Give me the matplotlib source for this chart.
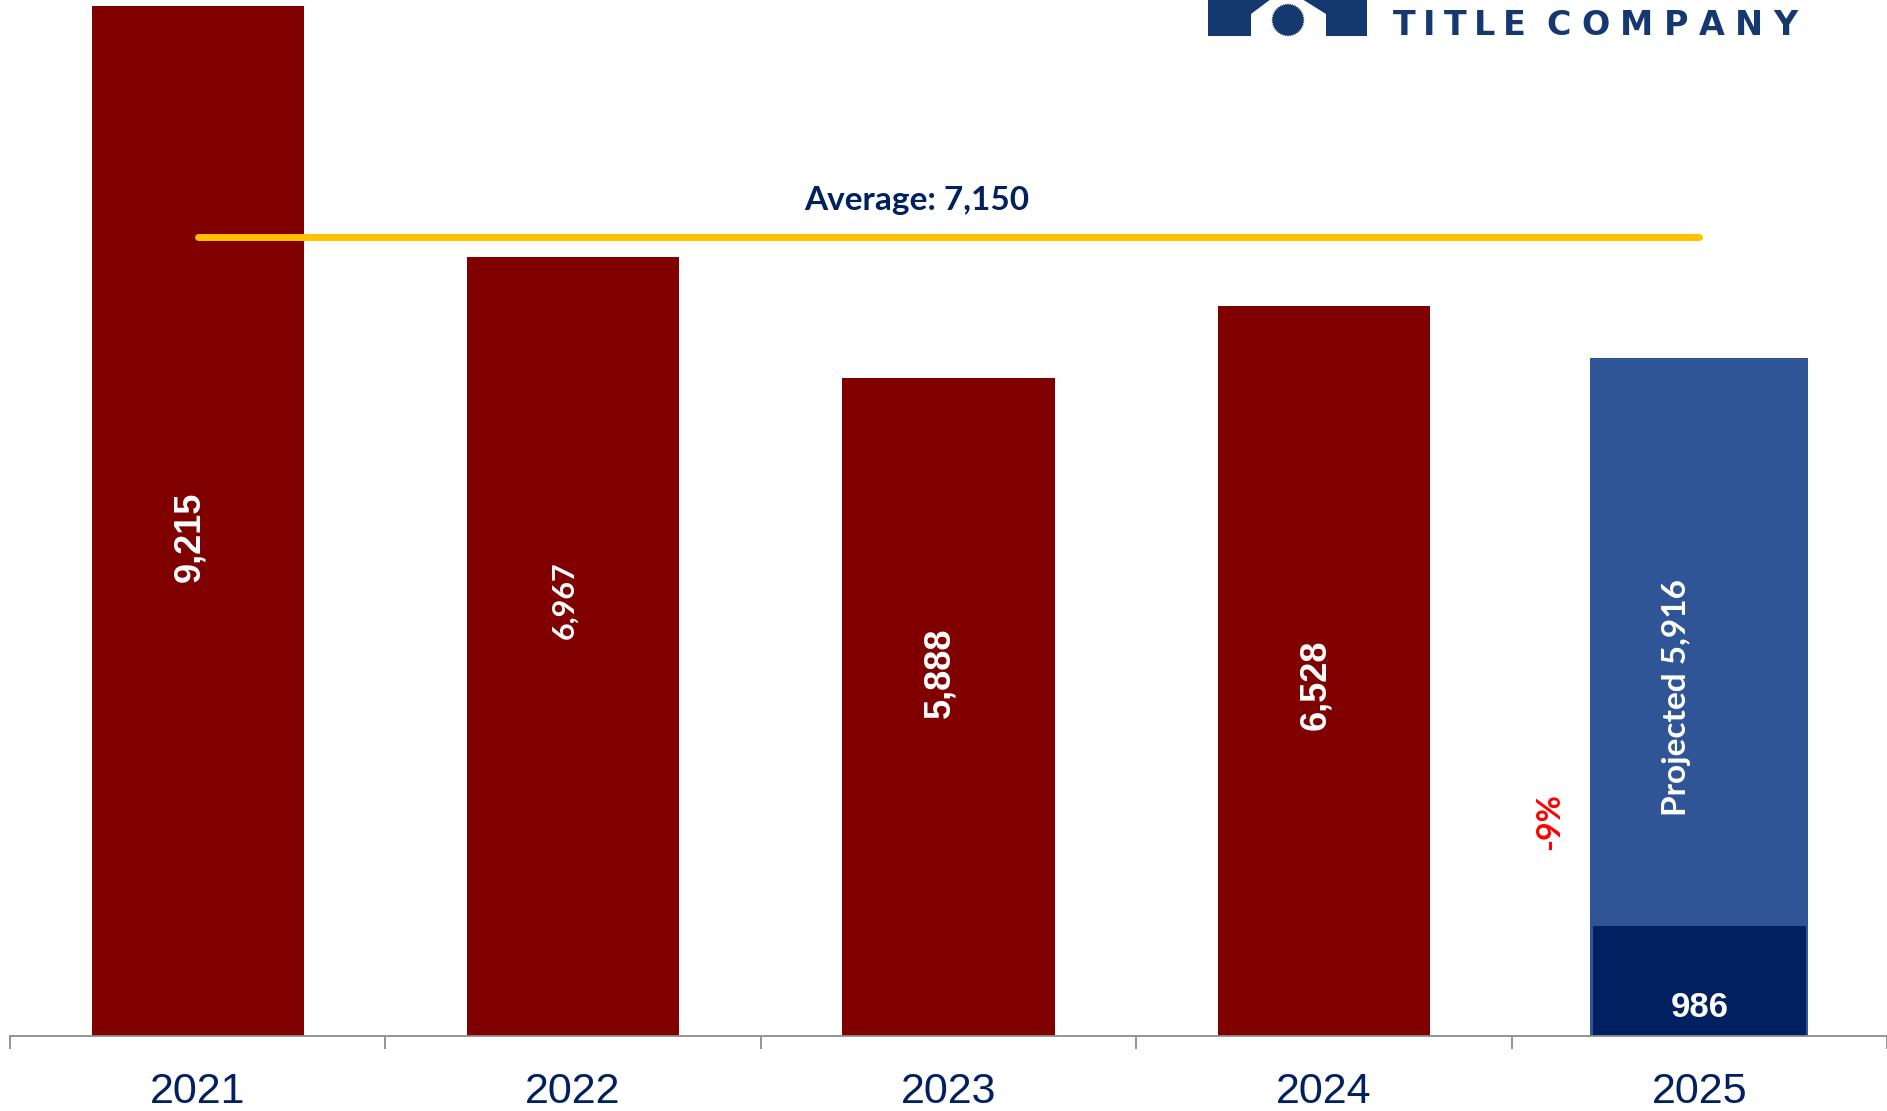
import numpy as np
import matplotlib
matplotlib.use("Agg")
import matplotlib.pyplot as plt
from matplotlib.patches import Rectangle, Polygon

# Closed sales by year
years = ["2021", "2022", "2023", "2024", "2025"]
closed = [9215, 6967, 5888, 6528]
ytd_2025 = 986
projected_2025 = 5916
average = 7150
change_label = "-9%"
company_words = ["TITLE", "COMPANY"]

red = "#800000"
blue = "#2F5597"
navy = "#002060"
gold = "#FFC000"
logo_navy = "#15396F"

W, H = 1887, 1111
fig = plt.figure(figsize=(W / 100, H / 100), dpi=100)
fig.patch.set_facecolor("white")

ax = fig.add_axes([10 / W, 75 / H, 1877 / W, 1036 / H])
ax.set_xlim(-0.5, 4.5)
ax.set_ylim(0, 9268)
ax.patch.set_visible(False)

# secondary scale used for the projected bar
ax2 = ax.twinx()
ax2.set_ylim(0, 9046)
ax2.set_zorder(ax.get_zorder() - 1)
ax2.axis("off")

x = list(range(len(years)))

ax.bar(x[:4], closed, width=0.565, color=red, zorder=2)
ax2.bar(x[4], projected_2025, width=0.58, color=blue, zorder=2)
ax.bar(x[4], ytd_2025, width=0.567, color=navy, zorder=3)

# value labels inside the bars
label_frac = [0.485, 0.559, 0.552, 0.481]
label_fonts = [["Liberation Sans"], ["Lato"], ["Liberation Sans"], ["Liberation Sans"]]
label_sizes = [26, 22, 26, 26]
for xi, v, fr, fam, sz in zip(x[:4], closed, label_frac, label_fonts, label_sizes):
    ax.text(xi - 0.022, v * fr, f"{v:,}", rotation=90, ha="center", va="center",
            color="white", fontsize=sz, fontweight="bold", family=fam, zorder=5)

ax2.text(x[4] - 0.06, projected_2025 * 0.5, f"Projected {projected_2025:,}", rotation=90,
         ha="center", va="center", color="white", fontsize=24, fontweight="bold",
         family=["Lato"], zorder=5)
ax.text(x[4], ytd_2025 * 0.26, f"{ytd_2025:,}", ha="center", va="center", color="white",
        fontsize=25, fontweight="bold", family=["Liberation Sans"], zorder=5)

ax.text(3.602, 1914, change_label, rotation=90, ha="center", va="center", color="#FF0000",
        fontsize=23, fontweight="bold", family=["Lato"], zorder=5)

# average line
ax.plot([x[0], x[4]], [average, average], color=gold, lw=5, solid_capstyle="round", zorder=4)
ax.text(1.916, 7470, f"Average: {average:,}", ha="center", va="center", color=navy,
        fontsize=24, fontweight="bold", family=["Lato"], zorder=5)

# axes styling
for s in ["top", "right", "left"]:
    ax.spines[s].set_visible(False)
ax.spines["bottom"].set_color("#8C8C8C")
ax.spines["bottom"].set_linewidth(1.3)
ax.spines["bottom"].set_zorder(6)
ax.set_yticks([])
ax.set_xticks(x)
ax.set_xticklabels(years, fontsize=31, color=navy, family=["Liberation Sans"])
ax.set_xticks([i - 0.5 for i in range(len(years) + 1)], minor=True)
ax.tick_params(axis="x", which="major", length=0, pad=26)
ax.tick_params(axis="x", which="minor", length=9, width=1.3, color="#8C8C8C")

# company mark in the top-right corner (pixel coordinates)
fax = fig.add_axes([0, 0, 1, 1], zorder=10)
fax.set_xlim(0, W)
fax.set_ylim(H, 0)
fax.axis("off")
fax.add_patch(Rectangle((1208, -5), 159, 41, color=logo_navy, lw=0))
fax.add_patch(Polygon([(1251, 36), (1251, 14), (1271, -1), (1302, -1), (1326, 14), (1326, 36)],
                      closed=True, color="white", lw=0))
# serrated seal
ang = np.linspace(0, 2 * np.pi, 81)[:-1]
rad = np.where(np.arange(ang.size) % 2 == 0, 16.5, 15.2)
fax.add_patch(Polygon(np.column_stack([1288 + rad * np.cos(ang), 20 + rad * np.sin(ang)]),
                      closed=True, color=logo_navy, lw=0))

# letter-spaced wordmark, each word spread over its own span
renderer = fig.canvas.get_renderer()
word_spans = [(1393, 1526), (1546, 1798)]
for word, (x0, x1) in zip(company_words, word_spans):
    glyphs = [fax.text(0, 35, ch, ha="left", va="baseline", color=logo_navy, fontsize=24,
                       fontweight="bold", family=["DejaVu Sans"]) for ch in word]
    widths = [t.get_window_extent(renderer).width for t in glyphs]
    tracking = (x1 - x0 - sum(widths)) / (len(glyphs) - 1)
    cx = x0
    for t, w in zip(glyphs, widths):
        t.set_x(cx)
        cx += w + tracking

fig.savefig("out.png", dpi=100, facecolor="white")
